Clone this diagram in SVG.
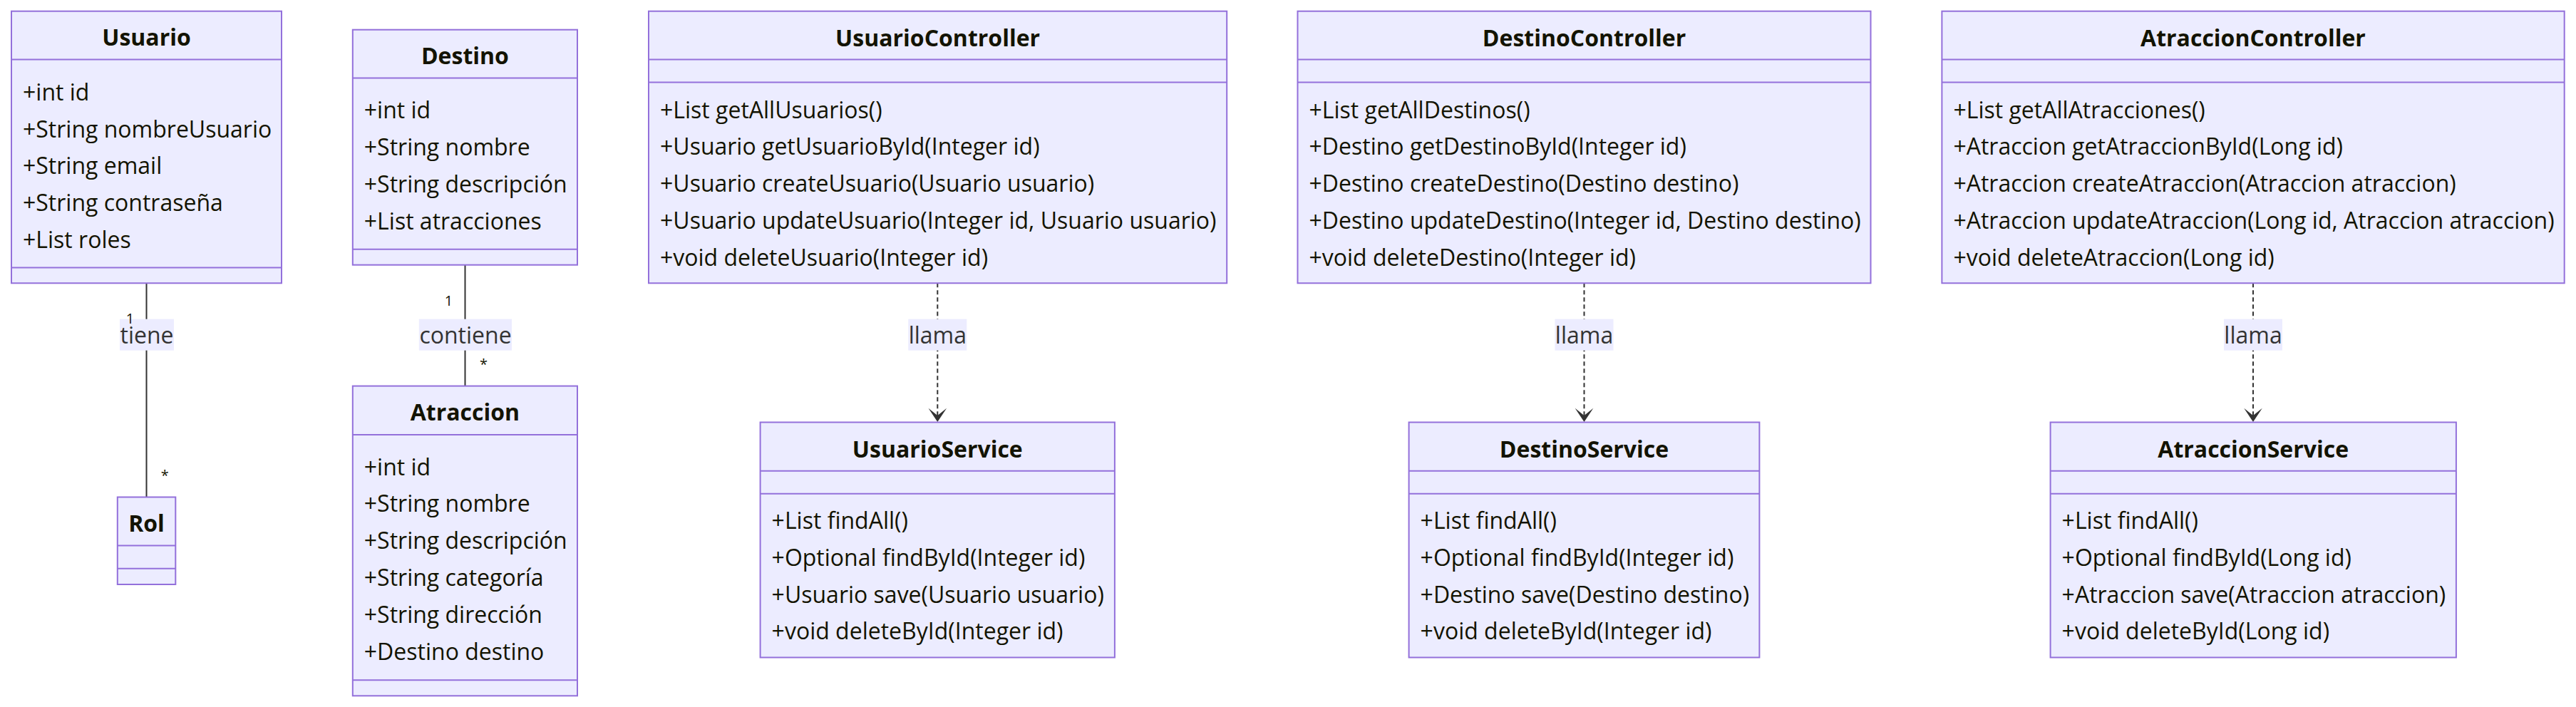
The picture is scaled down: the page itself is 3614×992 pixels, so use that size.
<svg xmlns="http://www.w3.org/2000/svg" width="3614" height="992" viewBox="0 0 3614 992">
<defs>
<style>
.box{fill:#ECECFF;stroke:#9370DB;stroke-width:2}
.div{stroke:#9370DB;stroke-width:2}
.title{font-family:"Open Sans","Liberation Sans",sans-serif;font-size:32px;font-weight:700;fill:#131300;text-anchor:middle}
.mem{font-family:"Open Sans","Liberation Sans",sans-serif;font-size:32px;fill:#131300}
.rel{stroke:#333333;stroke-width:2;fill:none}
.dash{stroke:#333333;stroke-width:2;fill:none;stroke-dasharray:6 4}
.lblbg{fill:#ECECFF}
.lbl{font-family:"Open Sans","Liberation Sans",sans-serif;font-size:32px;fill:#333333;text-anchor:middle}
.card{font-family:"Open Sans","Liberation Sans",sans-serif;font-size:20px;fill:#131300;text-anchor:middle}
.arrow{fill:#333333}
</style>
</defs>
<rect width="3614" height="992" fill="#ffffff"/>

<g id="connectors">
  <line class="rel" x1="205.5" y1="397.3" x2="205.5" y2="697.5"/>
  <line class="rel" x1="652.5" y1="371.7" x2="652.5" y2="541.6"/>
  <line class="dash" x1="1315.3" y1="397.3" x2="1315.3" y2="584"/>
  <line class="dash" x1="2222.5" y1="397.3" x2="2222.5" y2="584"/>
  <line class="dash" x1="3161" y1="397.3" x2="3161" y2="584"/>
  <path class="arrow" d="M1315.3,592 L1302.5,572.7 L1315.3,583 L1328.1,572.7 Z"/>
  <path class="arrow" d="M2222.5,592 L2209.7,572.7 L2222.5,583 L2235.3,572.7 Z"/>
  <path class="arrow" d="M3161,592 L3148.2,572.7 L3161,583 L3173.8,572.7 Z"/>
  <rect class="lblbg" x="168" y="447.7" width="76" height="44"/>
  <text class="lbl" x="206" y="481.7">tiene</text>
  <rect class="lblbg" x="587.8" y="447.7" width="130.3" height="44"/>
  <text class="lbl" x="653" y="481.7">contiene</text>
  <rect class="lblbg" x="1274.3" y="447.7" width="82" height="44"/>
  <text class="lbl" x="1315.3" y="481.7">llama</text>
  <rect class="lblbg" x="2181.5" y="447.7" width="82" height="44"/>
  <text class="lbl" x="2222.5" y="481.7">llama</text>
  <rect class="lblbg" x="3120" y="447.7" width="82" height="44"/>
  <text class="lbl" x="3161" y="481.7">llama</text>
  <text class="card" x="182.5" y="454.3">1</text>
  <text class="card" x="231.3" y="673.5">*</text>
  <text class="card" x="629.5" y="429">1</text>
  <text class="card" x="678.5" y="517.5">*</text>
</g>

<g id="Usuario">
  <rect class="box" x="16" y="15.7" width="379" height="381.6"/>
  <line class="div" x1="16" y1="83.5" x2="395" y2="83.5"/>
  <line class="div" x1="16" y1="375.5" x2="395" y2="375.5"/>
  <text class="title" x="205.5" y="64.3">Usuario</text>
  <text class="mem" x="32" y="140.7">+int id</text>
  <text class="mem" x="32" y="192.5">+String nombreUsuario</text>
  <text class="mem" x="32" y="244.3">+String email</text>
  <text class="mem" x="32" y="296.1">+String contraseña</text>
  <text class="mem" x="32" y="347.9">+List roles</text>
</g>

<g id="Destino">
  <rect class="box" x="494.8" y="41.7" width="315.2" height="330"/>
  <line class="div" x1="494.8" y1="109.5" x2="810" y2="109.5"/>
  <line class="div" x1="494.8" y1="349.7" x2="810" y2="349.7"/>
  <text class="title" x="652.4" y="90.3">Destino</text>
  <text class="mem" x="510.8" y="166.3">+int id</text>
  <text class="mem" x="510.8" y="218.1">+String nombre</text>
  <text class="mem" x="510.8" y="269.9">+String descripción</text>
  <text class="mem" x="510.8" y="321.7">+List atracciones</text>
</g>

<g id="Rol">
  <rect class="box" x="164.8" y="697.5" width="81.5" height="122.5"/>
  <line class="div" x1="164.8" y1="765.6" x2="246.3" y2="765.6"/>
  <line class="div" x1="164.8" y1="797.7" x2="246.3" y2="797.7"/>
  <text class="title" x="205.5" y="746.3">Rol</text>
</g>

<g id="Atraccion">
  <rect class="box" x="494.8" y="541.6" width="315.2" height="434.7"/>
  <line class="div" x1="494.8" y1="609.9" x2="810" y2="609.9"/>
  <line class="div" x1="494.8" y1="954.3" x2="810" y2="954.3"/>
  <text class="title" x="652.4" y="590.3">Atraccion</text>
  <text class="mem" x="510.8" y="666.5">+int id</text>
  <text class="mem" x="510.8" y="718.3">+String nombre</text>
  <text class="mem" x="510.8" y="770.1">+String descripción</text>
  <text class="mem" x="510.8" y="821.9">+String categoría</text>
  <text class="mem" x="510.8" y="873.7">+String dirección</text>
  <text class="mem" x="510.8" y="925.5">+Destino destino</text>
</g>

<g id="UsuarioController">
  <rect class="box" x="910" y="15.7" width="811.2" height="381.6"/>
  <line class="div" x1="910" y1="83.5" x2="1721.2" y2="83.5"/>
  <line class="div" x1="910" y1="115.6" x2="1721.2" y2="115.6"/>
  <text class="title" x="1315.6" y="65">UsuarioController</text>
  <text class="mem" x="926" y="165.5">+List getAllUsuarios()</text>
  <text class="mem" x="926" y="217.3">+Usuario getUsuarioById(Integer id)</text>
  <text class="mem" x="926" y="269.1">+Usuario createUsuario(Usuario usuario)</text>
  <text class="mem" x="926" y="320.9">+Usuario updateUsuario(Integer id, Usuario usuario)</text>
  <text class="mem" x="926" y="372.7">+void deleteUsuario(Integer id)</text>
</g>

<g id="DestinoController">
  <rect class="box" x="1820.5" y="15.7" width="804" height="381.6"/>
  <line class="div" x1="1820.5" y1="83.5" x2="2624.5" y2="83.5"/>
  <line class="div" x1="1820.5" y1="115.6" x2="2624.5" y2="115.6"/>
  <text class="title" x="2222.5" y="65">DestinoController</text>
  <text class="mem" x="1836.5" y="165.5">+List getAllDestinos()</text>
  <text class="mem" x="1836.5" y="217.3">+Destino getDestinoById(Integer id)</text>
  <text class="mem" x="1836.5" y="269.1">+Destino createDestino(Destino destino)</text>
  <text class="mem" x="1836.5" y="320.9">+Destino updateDestino(Integer id, Destino destino)</text>
  <text class="mem" x="1836.5" y="372.7">+void deleteDestino(Integer id)</text>
</g>

<g id="AtraccionController">
  <rect class="box" x="2724.4" y="15.7" width="873.3" height="381.6"/>
  <line class="div" x1="2724.4" y1="83.5" x2="3597.7" y2="83.5"/>
  <line class="div" x1="2724.4" y1="115.6" x2="3597.7" y2="115.6"/>
  <text class="title" x="3161" y="65">AtraccionController</text>
  <text class="mem" x="2740.4" y="165.5">+List getAllAtracciones()</text>
  <text class="mem" x="2740.4" y="217.3">+Atraccion getAtraccionById(Long id)</text>
  <text class="mem" x="2740.4" y="269.1">+Atraccion createAtraccion(Atraccion atraccion)</text>
  <text class="mem" x="2740.4" y="320.9">+Atraccion updateAtraccion(Long id, Atraccion atraccion)</text>
  <text class="mem" x="2740.4" y="372.7">+void deleteAtraccion(Long id)</text>
</g>

<g id="UsuarioService">
  <rect class="box" x="1066.6" y="592.5" width="497.3" height="330"/>
  <line class="div" x1="1066.6" y1="660.8" x2="1563.9" y2="660.8"/>
  <line class="div" x1="1066.6" y1="692.8" x2="1563.9" y2="692.8"/>
  <text class="title" x="1315.3" y="641.5">UsuarioService</text>
  <text class="mem" x="1082.6" y="742">+List findAll()</text>
  <text class="mem" x="1082.6" y="793.8">+Optional findById(Integer id)</text>
  <text class="mem" x="1082.6" y="845.6">+Usuario save(Usuario usuario)</text>
  <text class="mem" x="1082.6" y="897.4">+void deleteById(Integer id)</text>
</g>

<g id="DestinoService">
  <rect class="box" x="1976.6" y="592.5" width="491.8" height="330"/>
  <line class="div" x1="1976.6" y1="660.8" x2="2468.4" y2="660.8"/>
  <line class="div" x1="1976.6" y1="692.8" x2="2468.4" y2="692.8"/>
  <text class="title" x="2222.5" y="641.5">DestinoService</text>
  <text class="mem" x="1992.6" y="742">+List findAll()</text>
  <text class="mem" x="1992.6" y="793.8">+Optional findById(Integer id)</text>
  <text class="mem" x="1992.6" y="845.6">+Destino save(Destino destino)</text>
  <text class="mem" x="1992.6" y="897.4">+void deleteById(Integer id)</text>
</g>

<g id="AtraccionService">
  <rect class="box" x="2876.6" y="592.5" width="569.3" height="330"/>
  <line class="div" x1="2876.6" y1="660.8" x2="3445.9" y2="660.8"/>
  <line class="div" x1="2876.6" y1="692.8" x2="3445.9" y2="692.8"/>
  <text class="title" x="3161.2" y="641.5">AtraccionService</text>
  <text class="mem" x="2892.6" y="742">+List findAll()</text>
  <text class="mem" x="2892.6" y="793.8">+Optional findById(Long id)</text>
  <text class="mem" x="2892.6" y="845.6">+Atraccion save(Atraccion atraccion)</text>
  <text class="mem" x="2892.6" y="897.4">+void deleteById(Long id)</text>
</g>
</svg>
